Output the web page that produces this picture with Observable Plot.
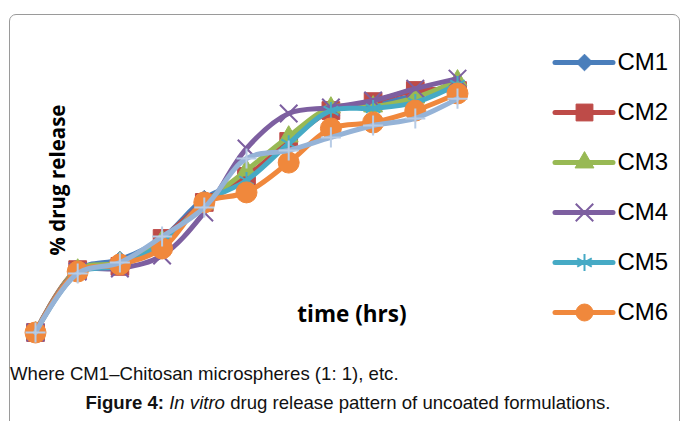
<!DOCTYPE html>
<html>
<head>
<meta charset="utf-8">
<script src="https://cdn.jsdelivr.net/npm/d3@7"></script>
<script src="https://cdn.jsdelivr.net/npm/@observablehq/plot@0.6"></script>
<style>
  html, body { margin: 0; padding: 0; background: #fff; }
  #wrap { position: relative; width: 684px; height: 421px; overflow: hidden; font-family: "Liberation Sans", Arial, sans-serif; }
  #box { position: absolute; left: 9px; top: 14px; width: 671px; height: 460px; border: 1px solid #9a9a9a; border-radius: 7px; box-sizing: border-box; }
  #main, #legend { position: absolute; top: 0; }
  #main { left: 0; }
  #legend { left: 540px; top: 30px; }
  .ylab { position: absolute; left: 57px; top: 180px; transform: translate(-50%, -50%) rotate(-90deg); font-family: "Open Sans", sans-serif; font-weight: 700; font-size: 20.5px; white-space: nowrap; color: #000; }
  .xlab { position: absolute; left: 352px; top: 313px; transform: translate(-50%, -50%); font-family: "Open Sans", sans-serif; font-weight: 700; font-size: 22.5px; white-space: nowrap; color: #000; }
  .note { position: absolute; left: 10px; top: 363px; font-size: 18.6px; line-height: 22px; color: #111; white-space: nowrap; }
  .cap { position: absolute; left: 348px; top: 392px; transform: translateX(-50%); font-size: 18.6px; line-height: 22px; color: #111; white-space: nowrap; }
</style>
</head>
<body>
<div id="wrap">
  <div id="box"></div>
  <div id="main"></div>
  <div id="legend"></div>
  <div class="ylab">% drug release</div>
  <div class="xlab">time (hrs)</div>
  <div class="note">Where CM1–Chitosan microspheres (1: 1), etc.</div>
  <div class="cap"><b>Figure 4:</b> <i>In vitro</i> drug release pattern of uncoated formulations.</div>
</div>
<script>
// Time points (categories on the unlabeled x axis)
const times = [0, 1, 2, 3, 4, 5, 6, 7, 8, 9, 10];

// % drug release per formulation (y axis unlabeled)
const CM1 = [0, 23.2, 26.9, 34.7, 49.4, 56.8, 70.8, 81.9, 84.1, 87.5, 90.8];
const CM2 = [0, 23.2, 24.4, 34.7, 48.0, 57.6, 70.5, 81.9, 85.2, 89.3, 89.3];
const CM3 = [0, 23.2, 25.8, 33.9, 47.6, 59.8, 72.3, 83.0, 83.4, 86.7, 93.0];
const CM4 = [0, 22.5, 23.6, 28.4, 44.3, 67.9, 80.8, 83.0, 85.6, 90.0, 93.7];
const CM5 = [0, 21.8, 24.7, 32.8, 48.0, 56.1, 69.7, 81.9, 82.7, 84.9, 91.5];
const CM6 = [0, 22.5, 25.1, 31.0, 48.0, 51.7, 62.7, 75.3, 77.5, 81.9, 88.2];
const CM7 = [0, 21.8, 25.8, 35.4, 46.1, 64.2, 67.2, 72.0, 76.4, 79.0, 86.3];

const seriesNames = ["CM1", "CM2", "CM3", "CM4", "CM5", "CM6", "CM7"];
const legendNames = ["CM1", "CM2", "CM3", "CM4", "CM5", "CM6"];
const seriesValues = [CM1, CM2, CM3, CM4, CM5, CM6, CM7];
const colors = ["#4a7ebb", "#be4b48", "#98b954", "#7d5fa0", "#46aac5", "#f0883c", "#95b3d7"];
const symbols = ["diamond2", "square", "triangle", "times", "asterisk", "circle", "plus"];
const filled = [true, true, true, false, false, true, false];
const sizes = [7.5, 10, 7, 8, 8, 10.5, 6.5];
const legendSizes = [7.5, 9.5, 7, 8, 8, 8.5];
const markStroke = ["#4a7ebb", "#be4b48", "#98b954", "#7d5fa0", "#46aac5", "#f0883c", "#b8cce6"];

function markerMark(data, i, r, x, y) {
  return filled[i]
    ? Plot.dot(data, {x, y, symbol: () => symbols[i], r, fill: colors[i], stroke: colors[i], strokeWidth: 1})
    : Plot.dot(data, {x, y, symbol: () => symbols[i], r, fill: "none", stroke: markStroke[i], strokeWidth: 2});
}

const marks = [];
seriesNames.forEach((name, i) => {
  const data = times.map((t, k) => ({t, v: seriesValues[i][k], s: name}));
  marks.push(Plot.line(data, {x: "t", y: "v", stroke: colors[i], strokeWidth: 5, curve: "catmull-rom", strokeLinecap: "round", strokeLinejoin: "round"}));
  marks.push(markerMark(data, i, sizes[i], "t", "v"));
});

const main = Plot.plot({
  width: 520,
  height: 350,
  marginLeft: 35,
  marginRight: 63,
  marginTop: 61,
  marginBottom: 18,
  x: {domain: [0, 10], axis: null},
  y: {domain: [0, 100], axis: null},
  style: {background: "transparent", overflow: "visible"},
  marks
});
document.getElementById("main").appendChild(main);

// Legend
const lmarks = [];
legendNames.forEach((name, i) => {
  const row = [{name}];
  lmarks.push(Plot.ruleY(row, {y: "name", x1: () => 0, x2: () => 1, stroke: colors[i], strokeWidth: 5, strokeLinecap: "round"}));
  lmarks.push(markerMark(row, i, legendSizes[i], () => 0.5, "name"));
  lmarks.push(Plot.text(row, {x: () => 1, y: "name", text: "name", textAnchor: "start", dx: 4, fontSize: 24, fill: "#000", fontFamily: "Liberation Sans, Arial, sans-serif"}));
});
const legend = Plot.plot({
  width: 144,
  height: 310,
  marginLeft: 15,
  marginRight: 71,
  marginTop: 31,
  marginBottom: 28,
  x: {domain: [0, 1], axis: null},
  y: {type: "point", domain: legendNames, padding: 0, axis: null},
  style: {background: "transparent", overflow: "visible"},
  marks: lmarks
});
document.getElementById("legend").appendChild(legend);
</script>
</body>
</html>
